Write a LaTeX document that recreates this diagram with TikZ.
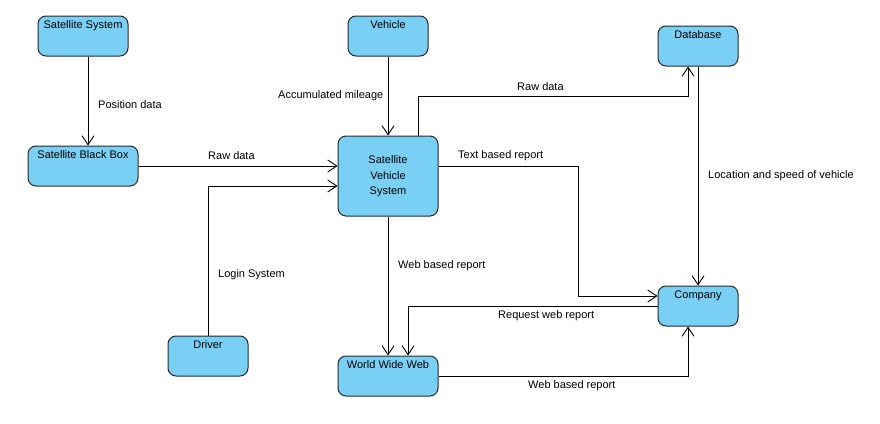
\documentclass[tikz,border=0pt]{standalone}
\usepackage{fontspec}
\setmainfont{Liberation Sans}
\usetikzlibrary{arrows.meta}
\definecolor{boxblue}{RGB}{122,207,245}
\definecolor{boxline}{RGB}{40,40,40}
\begin{document}
\begin{tikzpicture}[x=1pt,y=-1pt, font=\fontsize{11}{13}\selectfont,
  box/.style={draw=boxline, fill=boxblue, rounded corners=8pt, line width=1pt, inner sep=0pt, text height=10pt, text depth=26pt, minimum height=40pt},
  boxc/.style={draw=boxline, fill=boxblue, rounded corners=8pt, line width=1pt, inner sep=0pt, align=center},
  flow/.style={draw=black, line width=0.9pt, -{Straight Barb[length=9pt,width=12pt,line width=0.9pt]}},
  lab/.style={anchor=west, inner sep=0pt}]
\fill[white] (0,0) rectangle (880,423);
\useasboundingbox (0,0) rectangle (880,423);

\node[box, minimum width=90pt] (ss) at (83,36) {Satellite System};
\node[box, minimum width=110pt] (bb) at (83,166) {Satellite Black Box};
\node[box, minimum width=80pt] (veh) at (388,36) {Vehicle};
\node[boxc, minimum width=100pt, minimum height=80pt] (svs) at (388,176) {Satellite\\[2.5pt]Vehicle\\[2pt]System};
\node[box, minimum width=80pt] (db) at (698,46) {Database};
\node[box, minimum width=80pt] (co) at (698,306) {Company};
\node[box, minimum width=80pt] (dr) at (208,356) {Driver};
\node[box, minimum width=100pt] (www) at (388,376) {World Wide Web};

\draw[flow] ([xshift=5pt]ss.south) -- ([xshift=5pt]bb.north);
\draw[flow] (bb.east) -- (bb.east -| svs.west);
\draw[flow] (veh.south) -- (svs.north);
\draw[flow] (dr.north) |- ([yshift=-10pt]svs.west);
\draw[flow] ([xshift=30pt]svs.north) -- ++(0,-39) -| ([xshift=-10pt]db.south);
\draw[flow] (db.south) -- (co.north);
\draw[flow] ([yshift=10pt]svs.east) -- ++(140,0) |- ([yshift=10pt]co.west);
\draw[flow] (svs.south) -- (www.north);
\draw[flow] (co.west) -| ([xshift=20pt]www.north);
\draw[flow] (www.east) -| ([xshift=-10pt]co.south);

\node[lab] (l1) at (98,105) {Position data};
\node[lab] (l2) at (208,156) {Raw data};
\node[lab] (l3) at (278,96) {Accumulated mileage};
\node[lab] (l4) at (218,275) {Login System};
\node[lab] (l5) at (517,87) {Raw data};
\node[lab] (l6) at (458,156) {Text based report};
\node[lab] (l7) at (708,176) {Location and speed of vehicle};
\node[lab] (l8) at (398,266) {Web based report};
\node[lab] (l9) at (498,316) {Request web report};
\node[lab] (l10) at (528,386) {Web based report};
\end{tikzpicture}
\end{document}
